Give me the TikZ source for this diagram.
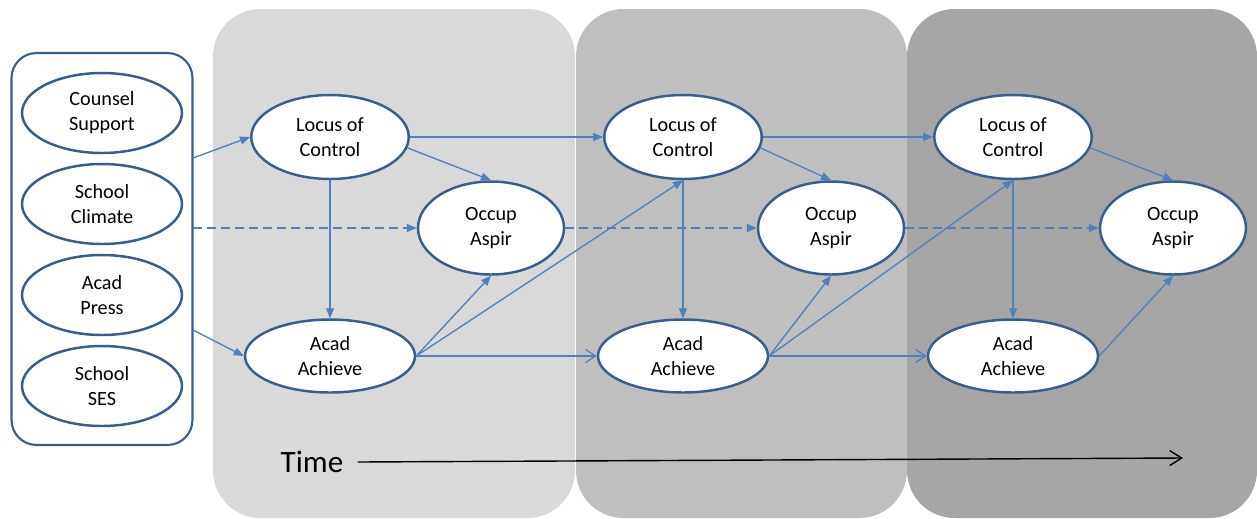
\documentclass[tikz,border=0pt]{standalone}
\usepackage{fontspec}
\setmainfont{Carlito}
\usepackage{xcolor}
\usepackage{tikz}
\usetikzlibrary{arrows.meta,positioning,calc,shapes.geometric}

\definecolor{ovalline}{RGB}{58,94,140}
\definecolor{linkblue}{RGB}{79,129,189}
\definecolor{waveA}{RGB}{217,217,217}
\definecolor{waveB}{RGB}{191,191,191}
\definecolor{waveC}{RGB}{166,166,166}

\begin{document}
\begin{tikzpicture}[x=0.02cm, y=-0.02cm,
    oval/.style={ellipse, draw=ovalline, line width=1.4pt, fill=white, inner sep=0pt,
                 align=center, font=\fontsize{11.5}{14.2}\selectfont},
    ctxoval/.style={oval, minimum width=3.2cm, minimum height=1.6cm},
    locus/.style={oval, minimum width=3.15cm, minimum height=1.68cm},
    acad/.style={oval, minimum width=3.4cm, minimum height=1.46cm},
    occup/.style={oval, minimum width=2.92cm, minimum height=1.86cm},
    link/.style={draw=linkblue, line width=0.75pt, -{Triangle[length=0.2cm,width=0.16cm]}},
    openlink/.style={draw=linkblue, line width=0.75pt, -{Straight Barb[length=0.2cm,width=0.26cm]}},
    dashlink/.style={link, dash pattern=on 0.18cm off 0.1cm}]
\useasboundingbox (0,0) rectangle (1257,518);

% 三个时间段的背景
\fill[waveA, rounded corners=0.95cm] (213,9) rectangle (575,518);
\fill[waveB, rounded corners=0.95cm] (576,9) rectangle (907,518);
\fill[waveC, rounded corners=0.95cm] (907,9) rectangle (1257,518);

% 学校背景变量 - 左侧方框
\node[draw=ovalline, line width=1.2pt, fill=white, rounded corners=0.5cm,
      minimum width=3.62cm, minimum height=7.84cm] (ctx) at (102,249) {};
\node[ctxoval] (cs)  at (102,113) {Counsel\\Support};
\node[ctxoval] (sc)  at (102,204) {School\\Climate};
\node[ctxoval] (ap)  at (102,295) {Acad\\Press};
\node[ctxoval] (ses) at (102,386) {School\\SES};

% 方框右侧的出发点
\coordinate (ctxL) at (193,158);
\coordinate (ctxO) at (193,228);
\coordinate (ctxA) at (193,330);

% 每个时间段的三个变量
% 位置:Locus/Acad 的 x 与 Occup 的 x
\foreach \i/\lx/\ox in {1/330/491, 2/683/831, 3/1013/1173} {
    \node[locus] (L\i) at (\lx,137) {Locus of\\Control};
    \node[acad]  (A\i) at (\lx,356) {Acad\\Achieve};
    \node[occup] (O\i) at (\ox,228) {Occup\\Aspir};
}

% 方框到第一时间段
\draw[link] (ctxL) -- (L1.west);
\draw[dashlink] (ctxO) -- (O1.west);
\draw[link] (ctxA) -- (A1.west);

% 同一时间段内的连接
\foreach \i in {1,2,3} {
    \draw[link] (L\i.south) -- (A\i.north);
    \draw[link] (L\i.-8) -- (O\i.north);
    \draw[link] (A\i.east) -- (O\i.south);
}

% 跨时间段的连接
\foreach \i/\j in {1/2, 2/3} {
    \draw[link] (L\i.east) -- (L\j.west);
    \draw[dashlink] (O\i.east) -- (O\j.west);
    \draw[openlink] (A\i.east) -- (A\j.west);
    \draw[link] (A\i.east) -- (L\j.south);
}

% 时间轴
\node[font=\fontsize{17.7}{21}\selectfont] (time) at (312,462) {Time};
\coordinate (tend) at (1183,458);
\draw[line width=0.8pt, -{Straight Barb[length=0.24cm,width=0.3cm]}]
    ([xshift=0.16cm]time.east) -- (tend);
\end{tikzpicture}
\end{document}
